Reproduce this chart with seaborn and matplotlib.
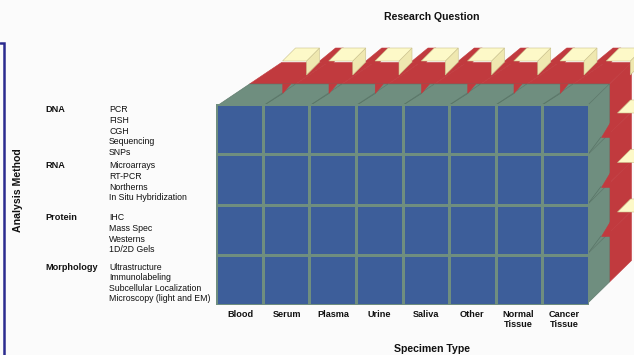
import numpy as np
import pandas as pd
import matplotlib
matplotlib.use("Agg")
import matplotlib.pyplot as plt
from matplotlib.patches import Polygon
import seaborn as sns

# ---------------- data ----------------
specimen_types = ["Blood", "Serum", "Plasma", "Urine", "Saliva", "Other",
                  "Normal\nTissue", "Cancer\nTissue"]
analysis_methods = ["DNA", "RNA", "Protein", "Morphology"]
dna_techniques = ["PCR", "FISH", "CGH", "Sequencing", "SNPs"]
rna_techniques = ["Microarrays", "RT-PCR", "Northerns", "In Situ Hybridization"]
protein_techniques = ["IHC", "Mass Spec", "Westerns", "1D/2D Gels"]
morphology_techniques = ["Ultrastructure", "Immunolabeling",
                         "Subcellular Localization", "Microscopy (light and EM)"]
research_layers = ["front", "middle", "back"]
x_title = "Specimen Type"
y_title = "Analysis Method"
z_title = "Research Question"

techniques = [dna_techniques, rna_techniques, protein_techniques, morphology_techniques]

# ---------------- style ----------------
W, H = 634, 355
BLUE = "#3d5e9a"
GREEN = "#6f8e7f"
GREEN_EDGE = "#587466"
RED = "#c13a3e"
YEL_TOP = "#fdf9c8"
YEL_SIDE = "#efe8b0"
YEL_EDGE = "#c9c08a"
NAVY = "#2b2b8f"
BG = "#fbfbfb"

sns.set_theme(style="white")
plt.rcParams["font.family"] = ["Liberation Sans", "DejaVu Sans"]

fig = plt.figure(figsize=(W / 100, H / 100), dpi=100)
fig.patch.set_facecolor(BG)
ax = fig.add_axes([0, 0, 1, 1])
ax.set_xlim(0, W)
ax.set_ylim(H, 0)
ax.axis("off")
ax.set_facecolor(BG)

# front face geometry (pixels)
FX0, FY0, FW, FH = 217.5, 105.5, 370.0, 198.0
ncol, nrow = len(specimen_types), len(analysis_methods)
xs = FX0 + np.arange(ncol + 1) * FW / ncol
ys = FY0 + np.arange(nrow + 1) * FH / nrow
R0 = FX0 + FW
DX, DXR, DY = 32.0, 22.0, 21.5


def off(p, k, right=False):
    return (p[0] + k * (DXR if right else DX), p[1] - k * DY)


def poly(pts, fc, ec=None, lw=0.4, z=1):
    ax.add_patch(Polygon(pts, closed=True, facecolor=fc,
                         edgecolor=ec if ec else fc, lw=lw, zorder=z))


# middle layer (red) top and right side
for i in range(ncol):
    a, b = (xs[i], FY0), (xs[i + 1], FY0)
    last = i == ncol - 1
    poly([off(a, 1), off(b, 1, last), off(b, 2, last), off(a, 2)], RED, z=1)
    # red riser between consecutive back blocks
    F = off(a, 2)
    if not last:
        poly([(F[0] + 37, F[1] - 0.5), (F[0] + 54, F[1] - 14.5),
              (F[0] + 62, F[1] - 14.5), (F[0] + 50, F[1] + 3)], RED, z=1)
for j in range(nrow):
    t, bt = (R0, ys[j]), (R0, ys[j + 1])
    poly([off(t, 1, True), off(bt, 1, True), off(bt, 2, True), off(t, 2, True)], RED, z=1)

# back layer (yellow) blocks on top
for i in range(ncol):
    F = off((xs[i], FY0), 2)
    top = [(F[0] + 1, F[1] - 1.5), (F[0] + 25, F[1] - 1.5),
           (F[0] + 38, F[1] - 14.5), (F[0] + 14, F[1] - 14.5)]
    side = [(F[0] + 25, F[1] - 1.5), (F[0] + 38, F[1] - 14.5),
            (F[0] + 38, F[1] - 0.5), (F[0] + 25, F[1] + 12.5)]
    poly(side, YEL_SIDE, YEL_EDGE, z=2)
    poly(top, YEL_TOP, YEL_EDGE, z=2)
# back layer blocks on the right side
for j in range(1, nrow):
    X, Y = off((R0, ys[j]), 2, True)
    poly([(X - 14, Y + 1), (X - 1, Y - 12), (X + 25, Y - 12), (X + 25, Y + 1)],
         YEL_TOP, YEL_EDGE, z=2)

# front layer (green) top and right side
for i in range(ncol):
    a, b = (xs[i], FY0), (xs[i + 1], FY0)
    last = i == ncol - 1
    poly([a, b, off(b, 1, last), off(a, 1)], GREEN, GREEN_EDGE, lw=0.4, z=3)
for j in range(nrow):
    t, bt = (R0, ys[j]), (R0, ys[j + 1])
    poly([t, bt, off(bt, 1, True), off(t, 1, True)], GREEN, GREEN_EDGE, lw=0.4, z=3)

# notches where the middle layer shows between front blocks
for i in range(1, ncol):
    Bx, By = off((xs[i], FY0), 1)
    poly([(Bx - 13, By), (Bx - 5, By), (Bx - 13, By + 9.5)], RED, z=4)
    ax.plot([xs[i], Bx - 13], [FY0, By + 9.5], color=GREEN_EDGE, lw=0.5, zorder=4)
for j in range(1, nrow):
    Bx, By = off((R0, ys[j]), 1, True)
    poly([(Bx, By - 11.5), (Bx, By + 3.5), (Bx - 8.5, By + 3.5)], RED, z=4)
    ax.plot([R0, Bx - 8.5], [ys[j], By + 3.5], color=GREEN_EDGE, lw=0.5, zorder=4)

# front face: seaborn heatmap
lw_px = 2.7
hx = fig.add_axes([(FX0 - lw_px / 2) / W, 1 - (FY0 + FH + lw_px / 2) / H,
                   (FW + lw_px) / W, (FH + lw_px) / H])
grid = pd.DataFrame(np.ones((nrow, ncol)), index=analysis_methods, columns=specimen_types)
sns.heatmap(grid, ax=hx, cmap=matplotlib.colors.ListedColormap([BLUE]), cbar=False,
            linewidths=lw_px * 0.72, linecolor=GREEN, xticklabels=False, yticklabels=False)
hx.set_xlabel("")
hx.set_ylabel("")
hx.set_zorder(5)
hx.patch.set_alpha(0)

# ---------------- text ----------------
ax.text(432, 17, z_title, ha="center", va="center", fontsize=7.6, fontweight="bold", color="#111111")
ax.text(432, 349, x_title, ha="center", va="center", fontsize=7.6, fontweight="bold", color="#111111")
ax.text(18, 190, y_title, ha="center", va="center", rotation=90, fontsize=7.6,
        fontweight="bold", color="#111111")

for i, lab in enumerate(specimen_types):
    ax.text((xs[i] + xs[i + 1]) / 2, 310, lab, ha="center", va="top", fontsize=6.6,
            fontweight="bold", color="#111111", linespacing=1.15)

group_y = [110, 166, 218, 267]
step = 10.6
for g, (name, items) in enumerate(zip(analysis_methods, techniques)):
    ax.text(45, group_y[g], name, ha="left", va="center", fontsize=6.6,
            fontweight="bold", color="#111111")
    for k, it in enumerate(items):
        ax.text(109, group_y[g] + k * step, it, ha="left", va="center",
                fontsize=6.3, color="#111111")

# left frame line
ax.plot([0, 3.5, 3.5], [42.5, 42.5, H], color=NAVY, lw=1.8, zorder=6, solid_joinstyle="miter")

fig.savefig("out.png", dpi=100, facecolor=BG)
